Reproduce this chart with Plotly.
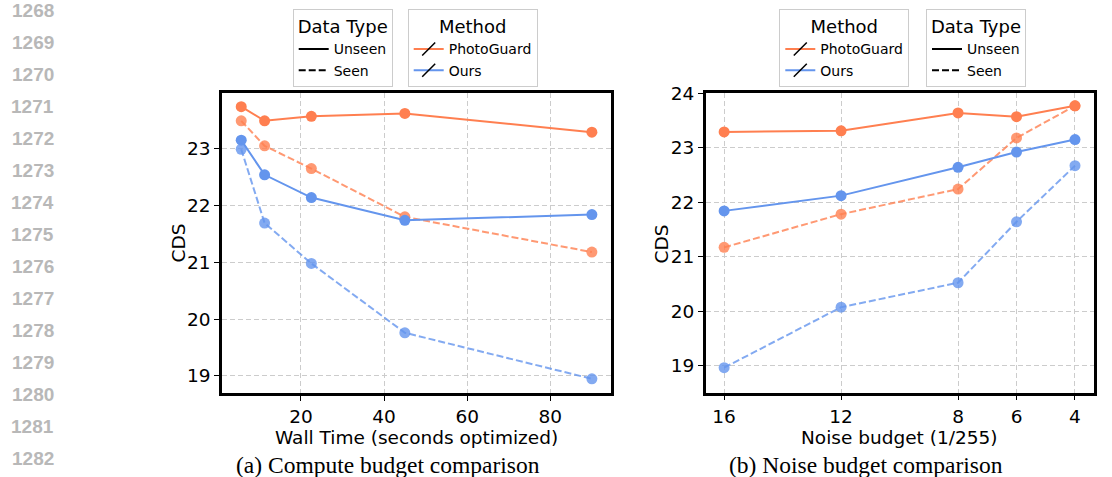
import plotly.graph_objects as go

# ---------------- data ----------------
wall_time = [5.625, 11.25, 22.5, 45, 90]
a_pg_unseen = [23.74, 23.49, 23.57, 23.62, 23.29]
a_pg_seen = [23.49, 23.05, 22.65, 21.80, 21.18]
a_ours_unseen = [23.15, 22.54, 22.14, 21.74, 21.84]
a_ours_seen = [22.99, 21.69, 20.98, 19.76, 18.95]

noise_budget = [16, 12, 8, 6, 4]
b_pg_unseen = [23.29, 23.31, 23.64, 23.57, 23.77]
b_pg_seen = [21.17, 21.78, 22.24, 23.18, 23.77]
b_ours_unseen = [21.84, 22.12, 22.64, 22.92, 23.15]
b_ours_seen = [18.96, 20.07, 20.52, 21.64, 22.67]

a_xticks = [20, 40, 60, 80]
b_xticks = [16, 12, 8, 6, 4]
line_numbers = list(range(1268, 1283))

methods = ["PhotoGuard", "Ours"]
data_types = ["Unseen", "Seen"]
# --------------------------------------

W, H = 1112, 477
PG = "rgb(255,127,80)"
PG_L = "rgba(255,127,80,0.8)"
OU = "rgb(100,149,237)"
OU_L = "rgba(100,149,237,0.8)"
DASH = "7px,3px"
FONT = "DejaVu Sans"

def px_x(v):
    return v / W

def px_y(v):
    return 1 - v / H

fig = go.Figure()

def add_series(x, y, color, dash, xa, ya):
    fig.add_trace(go.Scatter(
        x=x, y=y, mode="lines+markers", xaxis=xa, yaxis=ya,
        line=dict(color=color, width=2, dash=dash),
        marker=dict(color=color, size=11),
        showlegend=False, hoverinfo="x+y"))

# left panel
add_series(wall_time, a_pg_unseen, PG, "solid", "x", "y")
add_series(wall_time, a_pg_seen, PG_L, DASH, "x", "y")
add_series(wall_time, a_ours_unseen, OU, "solid", "x", "y")
add_series(wall_time, a_ours_seen, OU_L, DASH, "x", "y")
# right panel
add_series(noise_budget, b_pg_unseen, PG, "solid", "x2", "y2")
add_series(noise_budget, b_pg_seen, PG_L, DASH, "x2", "y2")
add_series(noise_budget, b_ours_unseen, OU, "solid", "x2", "y2")
add_series(noise_budget, b_ours_seen, OU_L, DASH, "x2", "y2")

# legend entries
def dtype_legend(lg):
    for name, dash in zip(data_types, ["solid", DASH]):
        fig.add_trace(go.Scatter(
            x=[None], y=[None], mode="lines", name=name, legend=lg,
            line=dict(color="black", width=2, dash=dash), showlegend=True))

def method_legend(lg):
    for name, color in zip(methods, [PG, OU]):
        fig.add_trace(go.Scatter(
            x=[None], y=[None], mode="lines+markers", name=name, legend=lg,
            line=dict(color=color, width=2),
            marker=dict(symbol="line-ne", size=13, color="black",
                        line=dict(color="black", width=1.5)),
            showlegend=True))

dtype_legend("legend")
method_legend("legend2")
method_legend("legend3")
dtype_legend("legend4")

def legend_cfg(title, xpx, ypx):
    return dict(
        title=dict(text=title, side="top center", font=dict(size=18, family=FONT, color="black")),
        font=dict(size=14, family=FONT, color="black"),
        x=px_x(xpx), y=px_y(ypx), xanchor="left", yanchor="top",
        bgcolor="white", bordercolor="#cccccc", borderwidth=1,
        itemwidth=30, tracegroupgap=0, traceorder="normal")

axis_common = dict(
    showline=True, linecolor="black", linewidth=2.5, mirror=True,
    ticks="outside", ticklen=5, tickwidth=1, tickcolor="black",
    showgrid=True, gridcolor="#cccccc", gridwidth=1, griddash="5px,3px",
    zeroline=False, automargin=False,
    tickfont=dict(size=18.5, family=FONT, color="black"))

fig.update_layout(
    width=W, height=H,
    margin=dict(l=0, r=0, t=0, b=0, pad=0, autoexpand=False),
    paper_bgcolor="white", plot_bgcolor="white",
    xaxis=dict(domain=[px_x(222), px_x(611)], range=[1.0, 94.6],
               tickvals=a_xticks, anchor="y", **axis_common),
    yaxis=dict(domain=[px_y(393), px_y(93)], range=[18.70, 23.98],
               dtick=1, anchor="x", **axis_common),
    xaxis2=dict(domain=[px_x(705.7), px_x(1094)], range=[16.63, 3.35],
                tickvals=b_xticks, anchor="y2", **axis_common),
    yaxis2=dict(domain=[px_y(392.7), px_y(93.3)], range=[18.50, 24.0],
                dtick=1, anchor="x2", **axis_common),
    legend=legend_cfg("Data Type", 292.7, 9),
    legend2=legend_cfg("Method", 407.7, 9),
    legend3=legend_cfg("Method", 779.3, 9),
    legend4=legend_cfg("Data Type", 926, 9),
)

annotations = []

def text_at(xpx, ypx, text, size, family, color="black", angle=0, bold=False):
    t = f"<b>{text}</b>" if bold else text
    annotations.append(dict(
        x=px_x(xpx), y=px_y(ypx), xref="paper", yref="paper",
        text=t, showarrow=False, xanchor="center", yanchor="middle",
        textangle=angle, font=dict(size=size, family=family, color=color)))

# axis titles
text_at(177.5, 243, "CDS", 18.5, FONT, angle=-90)
text_at(660.5, 244, "CDS", 18.5, FONT, angle=-90)
text_at(416.5, 437, "Wall Time (seconds optimized)", 18.5, FONT)
text_at(899, 437, "Noise budget (1/255)", 18.5, FONT)
# captions
text_at(388.4, 464.5, "(a) Compute budget comparison", 23.5, "Liberation Serif")
text_at(865.5, 464.5, "(b) Noise budget comparison", 23.5, "Liberation Serif")
# line numbers
for i, n in enumerate(line_numbers):
    text_at(32.5, 10.7 + i * 31.97, str(n), 19, "Liberation Sans", color="#b8b8b8", bold=True)

fig.update_layout(annotations=annotations)

fig.write_html(
    "out.html",
    config={"displayModeBar": False},
    post_script="document.body.style.margin='0px';document.body.style.overflow='hidden';")
